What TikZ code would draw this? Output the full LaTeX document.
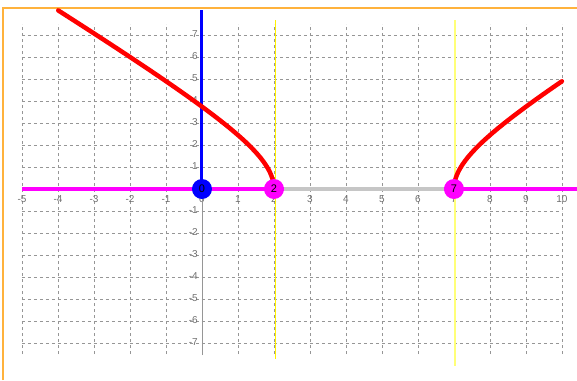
\documentclass[tikz,border=0pt]{standalone}
\usepackage{fontspec}
\setmainfont{Liberation Sans}
\usepackage{tikz}

\definecolor{frameorange}{RGB}{255,178,60}
\definecolor{gridgray}{RGB}{150,150,150}
\definecolor{labelgray}{RGB}{110,110,110}
\definecolor{ptmagenta}{RGB}{255,0,255}
\definecolor{markyellow}{RGB}{255,255,120}

\begin{document}
\begin{tikzpicture}[x=36pt, y=22pt,
    gridline/.style={gridgray, dashed, line width=0.6pt},
    ticklabel/.style={text=labelgray, font=\fontsize{10}{11}\selectfont, inner sep=0.5pt},
    point/.style={circle, inner sep=0pt, minimum size=20pt, font=\fontsize{11}{12}\selectfont},
    branch/.style={red, line width=4.5pt, line cap=round}]
    \useasboundingbox (-5.611,-8.682) rectangle (10.417,8.591);

    % Frame
    \draw[frameorange, line width=1.5pt] (-5.528,-8.682) -- (-5.528,8.227) -- (10.417,8.227);

    % Grid
    \foreach \i in {-5,...,10}
        \draw[gridline] (\i,-7.5) -- (\i,7.5);
    \foreach \j in {-7,...,-1,1,2,...,7}
        \draw[gridline] (-5,\j) -- (10,\j);

    % Tick labels
    \foreach \i in {-5,...,10}
        \node[ticklabel] (xl\i) at (\i,-0.45) {\i};
    \foreach \j in {-7,...,-1,1,2,...,7}
        \node[ticklabel, anchor=east] (yl\j) at (-0.1,\j+0.05) {\j};

    % Markers
    \coordinate (ytop) at (2.04,7.68);
    \coordinate (ybot) at (2.04,-7.73);
    \draw[yellow, line width=1pt] (ytop) -- (ybot);
    \coordinate (ztop) at (7.04,7.68);
    \coordinate (zbot) at (7.04,-8.05);
    \draw[markyellow, line width=2pt] (ztop) -- (zbot);

    % Axes
    \coordinate (ybottom) at (0,-7.55);
    \coordinate (yup) at (0,8.14);
    \coordinate (xleft) at (-5,0);
    \coordinate (xright) at (10.417,0);
    \draw[gridgray, line width=0.8pt] (ybottom) -- (0,0);
    \draw[blue, line width=3pt] (0,0) -- (yup);
    \draw[ptmagenta, line width=3.5pt] (xleft) -- (xright);

    % Curve
    \draw[branch] plot[domain=0:1.8946, samples=80, variable=\t]
        ({4.5-2.5*cosh(\t)}, {2.5*sinh(\t)});
    \draw[branch] plot[domain=0:1.4254, samples=80, variable=\t]
        ({4.5+2.5*cosh(\t)}, {2.5*sinh(\t)});

    % Nodes
    \node[point, fill=blue] (p0) at (0,0) {0};
    \node[point, fill=ptmagenta] (p2) at (2,0) {2};
    \node[point, fill=ptmagenta] (p7) at (7,0) {7};

    % Edges
    \draw[gray!45, line width=3.5pt] (p2) -- (p7);
\end{tikzpicture}
\end{document}
